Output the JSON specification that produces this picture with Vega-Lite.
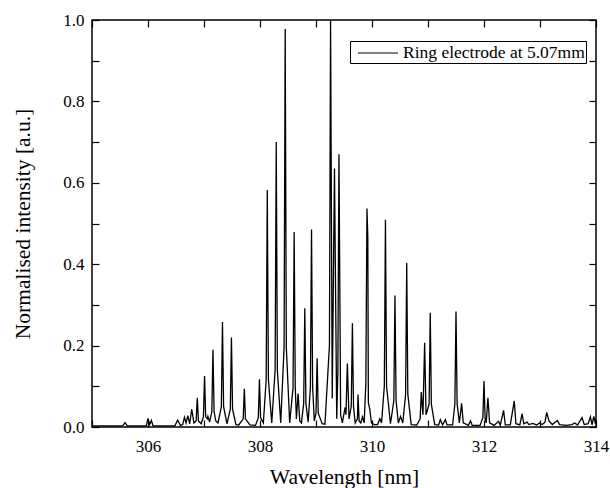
{
  "$schema": "https://vega.github.io/schema/vega-lite/v6.json",
  "width": 504,
  "height": 407,
  "autosize": {"type": "none"},
  "padding": {"left": 92, "top": 20, "right": 14, "bottom": 61},
  "background": "white",
  "config": {
    "view": {"stroke": "black", "strokeWidth": 1.5},
    "font": "Liberation Serif",
    "axis": {
      "domain": false,
      "grid": false,
      "tickColor": "black",
      "tickSize": -7,
      "tickWidth": 1.2,
      "labelColor": "black",
      "labelFont": "Liberation Serif",
      "labelFontSize": 17,
      "titleFont": "Liberation Serif",
      "titleFontSize": 21.5,
      "titleFontWeight": "normal",
      "titleColor": "black"
    }
  },
  "data": {"values": [
    {"w":305.00,"i":0.003},{"w":305.55,"i":0.003},{"w":305.59,"i":0.011},{"w":305.63,"i":0.003},
    {"w":305.97,"i":0.003},{"w":306.00,"i":0.021},{"w":306.03,"i":0.006},{"w":306.06,"i":0.016},{"w":306.09,"i":0.003},
    {"w":306.48,"i":0.003},{"w":306.53,"i":0.017},{"w":306.58,"i":0.004},{"w":306.62,"i":0.006},{"w":306.65,"i":0.024},
    {"w":306.68,"i":0.01},{"w":306.71,"i":0.028},{"w":306.745,"i":0.008},{"w":306.78,"i":0.044},{"w":306.82,"i":0.01},
    {"w":306.86,"i":0.015},{"w":306.88,"i":0.072},{"w":306.90,"i":0.015},{"w":306.95,"i":0.008},
    {"w":306.99,"i":0.025},{"w":307.01,"i":0.125},{"w":307.03,"i":0.025},{"w":307.06,"i":0.02},{"w":307.07,"i":0.026},
    {"w":307.10,"i":0.012},{"w":307.14,"i":0.038},{"w":307.16,"i":0.19},{"w":307.18,"i":0.038},{"w":307.21,"i":0.015},
    {"w":307.25,"i":0.01},{"w":307.31,"i":0.05},{"w":307.33,"i":0.258},{"w":307.35,"i":0.05},{"w":307.41,"i":0.008},
    {"w":307.47,"i":0.044},{"w":307.49,"i":0.22},{"w":307.51,"i":0.044},{"w":307.57,"i":0.006},{"w":307.62,"i":0.005},
    {"w":307.70,"i":0.02},{"w":307.72,"i":0.094},{"w":307.74,"i":0.02},{"w":307.82,"i":0.005},{"w":307.92,"i":0.004},
    {"w":307.97,"i":0.023},{"w":307.99,"i":0.117},{"w":308.01,"i":0.023},{"w":308.06,"i":0.01},
    {"w":308.11,"i":0.116},{"w":308.13,"i":0.582},{"w":308.15,"i":0.116},{"w":308.21,"i":0.01},
    {"w":308.27,"i":0.14},{"w":308.29,"i":0.70},{"w":308.31,"i":0.14},{"w":308.37,"i":0.01},
    {"w":308.43,"i":0.195},{"w":308.45,"i":0.978},{"w":308.47,"i":0.195},{"w":308.53,"i":0.01},
    {"w":308.59,"i":0.096},{"w":308.61,"i":0.479},{"w":308.63,"i":0.096},{"w":308.65,"i":0.02},
    {"w":308.68,"i":0.082},{"w":308.71,"i":0.015},{"w":308.74,"i":0.01},
    {"w":308.78,"i":0.058},{"w":308.80,"i":0.292},{"w":308.82,"i":0.058},{"w":308.86,"i":0.012},
    {"w":308.90,"i":0.097},{"w":308.92,"i":0.485},{"w":308.94,"i":0.097},{"w":308.97,"i":0.015},
    {"w":309.00,"i":0.034},{"w":309.02,"i":0.169},{"w":309.04,"i":0.034},{"w":309.11,"i":0.008},{"w":309.16,"i":0.007},
    {"w":309.24,"i":0.2},{"w":309.26,"i":1.0},{"w":309.29,"i":0.07},{"w":309.33,"i":0.635},{"w":309.37,"i":0.02},
    {"w":309.39,"i":0.134},{"w":309.41,"i":0.67},{"w":309.44,"i":0.03},{"w":309.47,"i":0.01},
    {"w":309.52,"i":0.048},{"w":309.535,"i":0.03},{"w":309.56,"i":0.156},{"w":309.59,"i":0.02},
    {"w":309.63,"i":0.051},{"w":309.65,"i":0.255},{"w":309.67,"i":0.05},{"w":309.70,"i":0.01},
    {"w":309.74,"i":0.02},{"w":309.75,"i":0.08},{"w":309.77,"i":0.015},{"w":309.80,"i":0.01},
    {"w":309.83,"i":0.025},{"w":309.86,"i":0.01},{"w":309.89,"i":0.107},{"w":309.91,"i":0.537},
    {"w":309.925,"i":0.47},{"w":309.935,"i":0.06},{"w":309.96,"i":0.044},{"w":309.99,"i":0.01},
    {"w":310.04,"i":0.006},{"w":310.10,"i":0.006},{"w":310.14,"i":0.02},{"w":310.17,"i":0.01},
    {"w":310.22,"i":0.1},{"w":310.24,"i":0.509},{"w":310.26,"i":0.1},{"w":310.33,"i":0.008},
    {"w":310.39,"i":0.065},{"w":310.41,"i":0.323},{"w":310.43,"i":0.065},{"w":310.47,"i":0.01},
    {"w":310.51,"i":0.026},{"w":310.55,"i":0.01},{"w":310.60,"i":0.08},{"w":310.62,"i":0.403},{"w":310.64,"i":0.08},
    {"w":310.70,"i":0.006},{"w":310.80,"i":0.005},{"w":310.86,"i":0.02},{"w":310.88,"i":0.086},{"w":310.91,"i":0.03},
    {"w":310.94,"i":0.207},{"w":310.965,"i":0.03},{"w":311.02,"i":0.056},{"w":311.04,"i":0.281},{"w":311.06,"i":0.056},
    {"w":311.12,"i":0.006},{"w":311.19,"i":0.005},{"w":311.22,"i":0.018},{"w":311.26,"i":0.005},
    {"w":311.31,"i":0.018},{"w":311.34,"i":0.005},{"w":311.44,"i":0.005},
    {"w":311.48,"i":0.057},{"w":311.50,"i":0.284},{"w":311.52,"i":0.057},{"w":311.56,"i":0.01},
    {"w":311.60,"i":0.058},{"w":311.63,"i":0.01},{"w":311.72,"i":0.004},{"w":311.76,"i":0.015},{"w":311.79,"i":0.004},
    {"w":311.93,"i":0.004},{"w":311.98,"i":0.023},{"w":312.00,"i":0.113},{"w":312.02,"i":0.02},{"w":312.04,"i":0.01},
    {"w":312.07,"i":0.072},{"w":312.10,"i":0.01},{"w":312.18,"i":0.004},{"w":312.26,"i":0.014},{"w":312.29,"i":0.004},
    {"w":312.35,"i":0.041},{"w":312.38,"i":0.005},{"w":312.47,"i":0.005},{"w":312.54,"i":0.064},{"w":312.57,"i":0.008},
    {"w":312.64,"i":0.005},{"w":312.68,"i":0.033},{"w":312.71,"i":0.008},{"w":312.77,"i":0.012},{"w":312.80,"i":0.006},
    {"w":312.87,"i":0.009},{"w":312.94,"i":0.005},{"w":312.99,"i":0.01},{"w":313.04,"i":0.006},{"w":313.09,"i":0.012},
    {"w":313.12,"i":0.036},{"w":313.16,"i":0.015},{"w":313.22,"i":0.006},{"w":313.31,"i":0.016},{"w":313.35,"i":0.006},
    {"w":313.47,"i":0.004},{"w":313.57,"i":0.006},{"w":313.62,"i":0.01},{"w":313.67,"i":0.005},{"w":313.75,"i":0.023},
    {"w":313.79,"i":0.006},{"w":313.86,"i":0.008},{"w":313.90,"i":0.025},{"w":313.93,"i":0.005},{"w":313.96,"i":0.026},
    {"w":313.99,"i":0.008},{"w":314.00,"i":0.02}
  ]},
  "layer": [
    {
      "mark": {"type": "line", "strokeWidth": 1.3, "clip": true},
      "encoding": {
        "x": {
          "field": "w", "type": "quantitative",
          "scale": {"domain": [305, 314], "nice": false, "zero": false},
          "axis": {
            "orient": "bottom", "title": "Wavelength [nm]",
            "values": [305, 306, 307, 308, 309, 310, 311, 312, 313, 314],
            "labelExpr": "datum.value % 2 == 0 ? datum.label : ''",
            "labelPadding": 18, "labelFlush": false,
            "titleY": 50, "titleBaseline": "middle"
          }
        },
        "y": {
          "field": "i", "type": "quantitative",
          "scale": {"domain": [0, 1], "nice": false},
          "axis": {
            "orient": "left", "title": "Normalised intensity [a.u.]",
            "values": [0, 0.1, 0.2, 0.3, 0.4, 0.5, 0.6, 0.7, 0.8, 0.9, 1.0],
            "format": ".1f",
            "labelExpr": "round(datum.value * 10) % 2 == 0 ? datum.label : ''",
            "labelPadding": 15, "labelFlush": false,
            "titleX": -69, "titleBaseline": "middle"
          }
        },
        "color": {
          "datum": "Ring electrode at 5.07mm", "type": "nominal",
          "scale": {"range": ["black"]},
          "legend": {
            "title": null, "orient": "none", "legendX": 258, "legendY": 21,
            "strokeColor": "black", "fillColor": "white", "padding": 1,
            "symbolType": "M-2,0H2", "symbolSize": 400, "symbolStrokeWidth": 1.2,
            "symbolOffset": 16, "symbolStrokeColor": "black", "labelFont": "Liberation Serif",
            "labelFontSize": 17.5, "labelColor": "black", "labelOffset": 14,
            "labelLimit": 400
          }
        }
      }
    },
    {
      "mark": {"type": "line", "opacity": 0},
      "encoding": {
        "x": {
          "field": "w", "type": "quantitative",
          "axis": {
            "orient": "top", "title": null, "labels": false,
            "values": [305, 306, 307, 308, 309, 310, 311, 312, 313, 314]
          }
        },
        "y": {
          "field": "i", "type": "quantitative",
          "axis": {
            "orient": "right", "title": null, "labels": false,
            "values": [0, 0.1, 0.2, 0.3, 0.4, 0.5, 0.6, 0.7, 0.8, 0.9, 1.0]
          }
        }
      }
    }
  ],
  "resolve": {"axis": {"x": "independent", "y": "independent"}}
}
